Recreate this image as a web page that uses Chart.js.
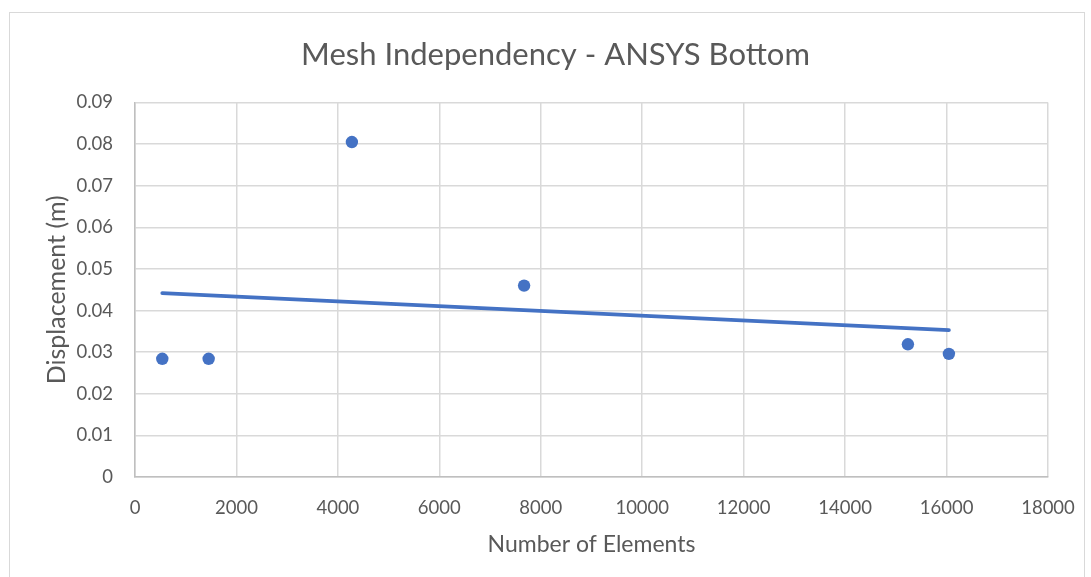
<!DOCTYPE html>
<html>
<head>
<meta charset="utf-8">
<script src="https://cdn.jsdelivr.net/npm/chart.js@4/dist/chart.umd.min.js"></script>
<style>
  html, body { margin: 0; padding: 0; background: #fff; }
  #wrap { position: relative; width: 1091px; height: 577px; }
  #frame { position: absolute; left: 9px; top: 12px; width: 1076px; height: 580px; border: 1px solid #d9d9d9; box-sizing: border-box; pointer-events: none; }
  canvas { position: absolute; left: 0; top: 0; }
</style>
</head>
<body>
<div id="wrap">
  <canvas id="c" width="1091" height="577"></canvas>
  <div id="frame"></div>
</div>
<script>
const chartTitle = "Mesh Independency - ANSYS Bottom";
const xAxisTitle = "Number of Elements";
const yAxisTitle = "Displacement (m)";
const elements = [538, 1452, 4276, 7671, 15238, 16046];
const displacement = [0.0284, 0.0284, 0.0805, 0.0460, 0.0319, 0.0296];
const trendX = [538, 16046];
const trendY = [0.0442, 0.0353];
const xTicks = [0, 2000, 4000, 6000, 8000, 10000, 12000, 14000, 16000, 18000];
const yTicks = [0, 0.01, 0.02, 0.03, 0.04, 0.05, 0.06, 0.07, 0.08, 0.09];

const blue = "#4472C4";
const textGrey = "#595959";
const gridGrey = "#d9d9d9";
const fontFam = "Lato, 'Open Sans', sans-serif";

const pts = elements.map((x, i) => ({ x: x, y: displacement[i] }));
const trend = trendX.map((x, i) => ({ x: x, y: trendY[i] }));

// Title drawn at Excel's position (centred on the outer chart frame, not the canvas)
const excelTitle = {
  id: "excelTitle",
  afterDraw(chart) {
    const ctx = chart.ctx;
    ctx.save();
    ctx.fillStyle = textGrey;
    ctx.font = "31px " + fontFam;
    ctx.textAlign = "center";
    ctx.textBaseline = "alphabetic";
    ctx.fillText(chartTitle, 555.5, 65);
    ctx.restore();
  }
};

new Chart(document.getElementById("c"), {
  type: "scatter",
  data: {
    datasets: [
      { label: "Displacement", data: pts, backgroundColor: blue, borderColor: blue, pointRadius: 6.2, pointBorderWidth: 0, pointHoverRadius: 6.2, order: 1 },
      { label: "Linear trend", data: trend, showLine: true, borderColor: blue, backgroundColor: blue, borderWidth: 3.8, borderCapStyle: "round", pointRadius: 0, fill: false, order: 2 }
    ]
  },
  plugins: [excelTitle],
  options: {
    responsive: false,
    animation: false,
    layout: { padding: { left: 0, right: 43, top: 102.5, bottom: 0 } },
    plugins: {
      legend: { display: false },
      tooltip: { enabled: false },
      title: { display: false, text: chartTitle }
    },
    scales: {
      x: {
        type: "linear", min: 0, max: 18000,
        afterBuildTicks: (s) => { s.ticks = xTicks.map(v => ({ value: v })); },
        afterFit: (s) => { s.height = 100; s.paddingLeft = 0; s.paddingRight = 0; },
        ticks: { color: textGrey, font: { family: fontFam, size: 18.5 }, padding: 20, maxRotation: 0, callback: (v) => String(v) },
        grid: { color: gridGrey, lineWidth: 1.5, drawTicks: false },
        border: { color: "#bfbfbf", width: 1.5 },
        title: { display: true, text: xAxisTitle, color: textGrey, font: { family: fontFam, size: 23 }, padding: { top: 10, bottom: 19 } }
      },
      y: {
        type: "linear", min: 0, max: 0.09,
        afterBuildTicks: (s) => { s.ticks = yTicks.map(v => ({ value: v })); },
        afterFit: (s) => { s.width = 135; s.paddingTop = 0; s.paddingBottom = 0; },
        ticks: { color: textGrey, font: { family: fontFam, size: 18.5 }, padding: 22, callback: (v) => (v === 0 ? "0" : v.toFixed(2)) },
        grid: { color: gridGrey, lineWidth: 1.5, drawTicks: false },
        border: { color: "#bfbfbf", width: 1.5 },
        title: { display: true, text: yAxisTitle, color: textGrey, font: { family: fontFam, size: 25 }, padding: { top: 42, bottom: 0 } }
      }
    }
  }
});
</script>
</body>
</html>
